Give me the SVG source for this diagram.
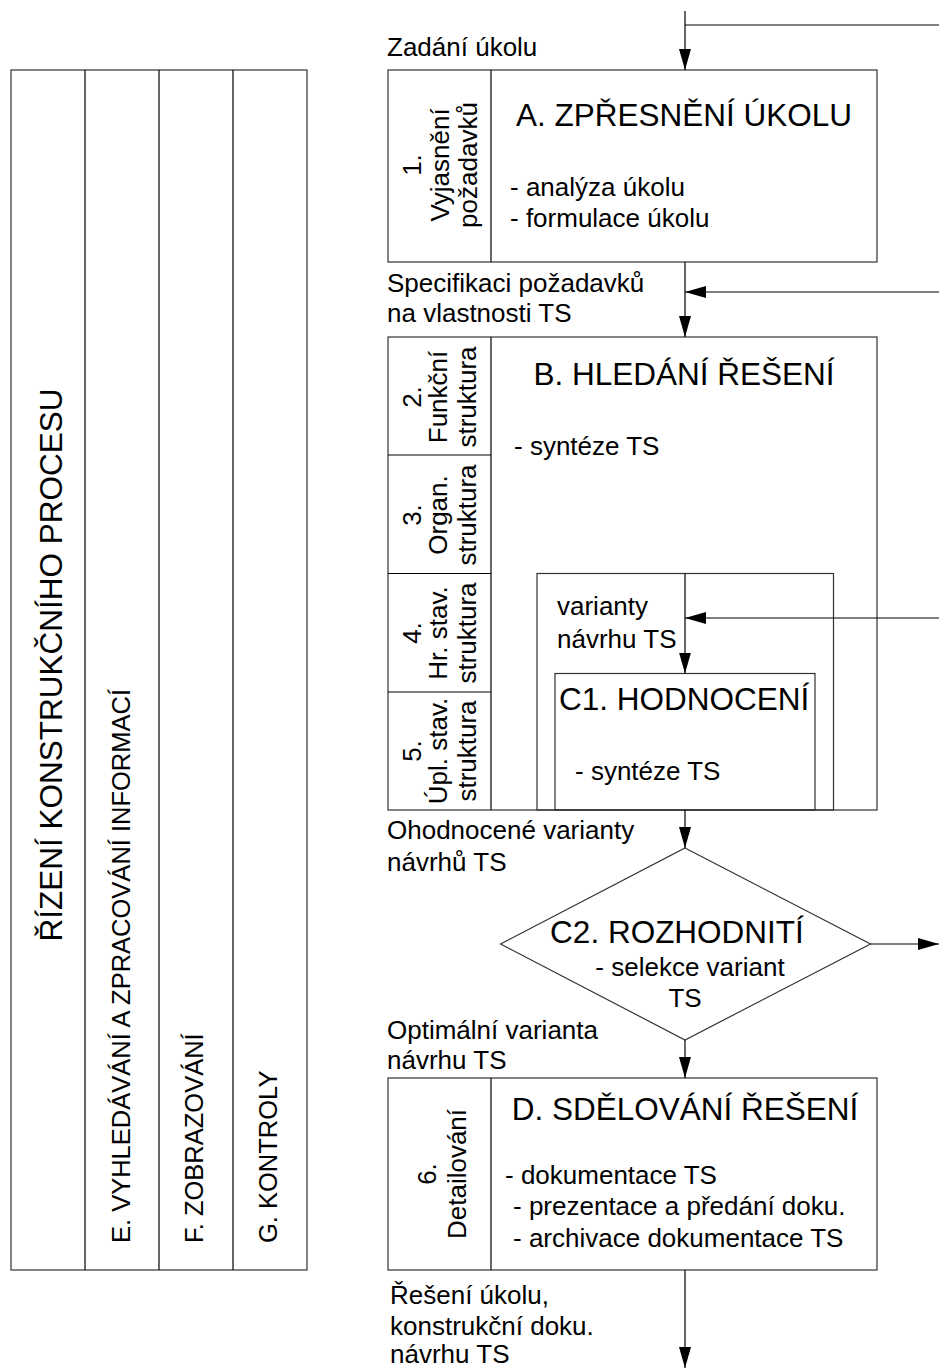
<svg xmlns="http://www.w3.org/2000/svg" width="939" height="1369" viewBox="0 0 939 1369">
<defs>
<marker id="ah" markerUnits="userSpaceOnUse" markerWidth="21" markerHeight="12" refX="21" refY="6" orient="auto">
<path d="M0,0 L21,6 L0,12 z" fill="#000"/>
</marker>
<style>
text{font-family:"Liberation Sans",Arial,sans-serif;fill:#000}
.s{font-size:26px}
.p{font-size:25.5px}
.t{font-size:31.5px}
.box{fill:none;stroke:#333;stroke-width:1.2}
.ln{fill:none;stroke:#000;stroke-width:1.2}
.c{stroke:#000;stroke-width:1.2;fill:none}
.m{text-anchor:middle}
</style>
</defs>
<rect width="939" height="1369" fill="#fff"/>

<g id="panel">
<rect class="box" x="11" y="70" width="296" height="1200"/>
<line class="ln" x1="85" y1="70" x2="85" y2="1270"/>
<line class="ln" x1="159" y1="70" x2="159" y2="1270"/>
<line class="ln" x1="233" y1="70" x2="233" y2="1270"/>
<text class="t m" transform="translate(62,665) rotate(-90)">ŘÍZENÍ KONSTRUKČNÍHO PROCESU</text>
<text class="p" transform="translate(130,1243) rotate(-90)">E. VYHLEDÁVÁNÍ A ZPRACOVÁNÍ INFORMACÍ</text>
<text class="p" transform="translate(203,1243) rotate(-90)">F. ZOBRAZOVÁNÍ</text>
<text class="p" transform="translate(277,1243) rotate(-90)">G. KONTROLY</text>
</g>

<g id="labels">
<text class="s" x="387" y="56">Zadání úkolu</text>
<text class="s" x="387" y="292">Specifikaci požadavků</text>
<text class="s" x="387" y="322">na vlastnosti TS</text>
<text class="s" x="387" y="839">Ohodnocené varianty</text>
<text class="s" x="387" y="871">návrhů TS</text>
<text class="s" x="387" y="1039">Optimální varianta</text>
<text class="s" x="387" y="1069">návrhu TS</text>
<text class="s" x="390" y="1304">Řešení úkolu,</text>
<text class="s" x="390" y="1335">konstrukční doku.</text>
<text class="s" x="390" y="1363">návrhu TS</text>
</g>

<g id="nodeA">
<rect class="box" x="388" y="70" width="489" height="192"/>
<line class="ln" x1="491" y1="70" x2="491" y2="262"/>
<g transform="translate(439,165) rotate(-90)">
<text class="s m" y="-18">1.</text>
<text class="s m" y="10">Vyjasnění</text>
<text class="s m" y="38">požadavků</text>
</g>
<text class="t m" x="684" y="126">A. ZPŘESNĚNÍ ÚKOLU</text>
<text class="s" x="510" y="196">- analýza úkolu</text>
<text class="s" x="510" y="227">- formulace úkolu</text>
</g>

<g id="nodeB">
<rect class="box" x="388" y="337" width="489" height="473"/>
<line class="ln" x1="491" y1="337" x2="491" y2="810"/>
<line class="ln" x1="388" y1="455" x2="491" y2="455"/>
<line class="ln" x1="388" y1="573.5" x2="491" y2="573.5"/>
<line class="ln" x1="388" y1="692" x2="491" y2="692"/>
<g transform="translate(439,397) rotate(-90)">
<text class="s m" y="-18">2.</text>
<text class="s m" y="8">Funkční</text>
<text class="s m" y="37">struktura</text>
</g>
<g transform="translate(439,515) rotate(-90)">
<text class="s m" y="-18">3.</text>
<text class="s m" y="8">Organ.</text>
<text class="s m" y="37">struktura</text>
</g>
<g transform="translate(439,633) rotate(-90)">
<text class="s m" y="-18">4.</text>
<text class="s m" y="8">Hr. stav.</text>
<text class="s m" y="37">struktura</text>
</g>
<g transform="translate(439,751) rotate(-90)">
<text class="s m" y="-18">5.</text>
<text class="s m" y="8">Úpl. stav.</text>
<text class="s m" y="37">struktura</text>
</g>
<text class="t m" x="684" y="385">B. HLEDÁNÍ ŘEŠENÍ</text>
<text class="s" x="514" y="455">- syntéze TS</text>
</g>

<g id="nodeVarianty">
<rect class="box" x="537" y="573.5" width="296.5" height="236.5"/>
<text class="s" x="557" y="615">varianty</text>
<text class="s" x="557" y="648">návrhu TS</text>
</g>

<g id="nodeC1">
<rect class="box" x="555" y="673.5" width="260" height="136.5"/>
<text class="t" x="559" y="710">C1. HODNOCENÍ</text>
<text class="s" x="575" y="780">- syntéze TS</text>
</g>

<g id="nodeC2">
<polygon class="box" points="685,848 870.5,944 685,1040 500.5,944"/>
<text class="t m" x="677" y="943">C2. ROZHODNITÍ</text>
<text class="s m" x="690" y="976">- selekce variant</text>
<text class="s m" x="685" y="1007">TS</text>
</g>

<g id="nodeD">
<rect class="box" x="388" y="1078" width="489" height="192"/>
<line class="ln" x1="491" y1="1078" x2="491" y2="1270"/>
<g transform="translate(439,1174) rotate(-90)">
<text class="s m" y="-3">6.</text>
<text class="s m" y="27">Detailování</text>
</g>
<text class="t m" x="685" y="1120">D. SDĚLOVÁNÍ ŘEŠENÍ</text>
<text class="s" x="505" y="1184">- dokumentace TS</text>
<text class="s" x="513" y="1215">- prezentace a předání doku.</text>
<text class="s" x="513" y="1247">- archivace dokumentace TS</text>
</g>

<g id="connectors">
<line class="c" x1="685" y1="11" x2="685" y2="70" marker-end="url(#ah)"/>
<line class="c" x1="685" y1="25" x2="939" y2="25"/>
<line class="c" x1="685" y1="262" x2="685" y2="337" marker-end="url(#ah)"/>
<line class="c" x1="939" y1="292" x2="685" y2="292" marker-end="url(#ah)"/>
<line class="c" x1="685" y1="573.5" x2="685" y2="673.5" marker-end="url(#ah)"/>
<line class="c" x1="939" y1="618" x2="685" y2="618" marker-end="url(#ah)"/>
<line class="c" x1="685" y1="810" x2="685" y2="848" marker-end="url(#ah)"/>
<line class="c" x1="870.5" y1="944" x2="939" y2="944" marker-end="url(#ah)"/>
<line class="c" x1="685" y1="1040" x2="685" y2="1078" marker-end="url(#ah)"/>
<line class="c" x1="685" y1="1270" x2="685" y2="1368" marker-end="url(#ah)"/>
</g>
</svg>
